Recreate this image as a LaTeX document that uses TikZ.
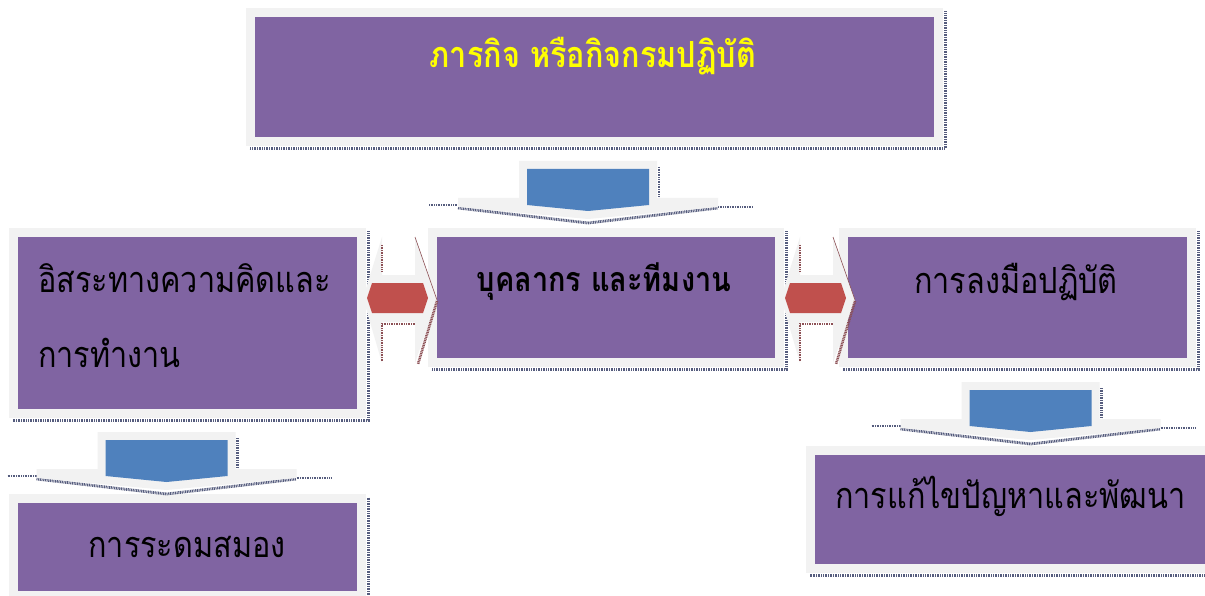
\documentclass[tikz,border=0pt]{standalone}
\usepackage{fontspec}
\usetikzlibrary{backgrounds}
\newfontfamily\thai[Script=Thai,FakeStretch=0.85]{Loma}
\definecolor{boxpurple}{HTML}{8064A2}
\definecolor{framegray}{HTML}{F2F2F2}
\definecolor{arrowblue}{HTML}{4F81BD}
\definecolor{arrowred}{HTML}{C0504D}
\definecolor{shadowc}{RGB}{85,92,125}
\definecolor{shadowr}{RGB}{140,80,85}
\definecolor{titleyellow}{HTML}{FFFF00}
\tikzset{
  pbox/.style={rectangle, fill=boxpurple, draw=framegray, line width=9pt, inner sep=0pt, outer sep=0pt},
  lbl/.style={font=\thai\fontsize{36}{75}\selectfont, text=black, inner sep=0pt},
  blbl/.style={lbl, font=\thai\bfseries\fontsize{34}{40}\selectfont},
  tlbl/.style={lbl, font=\thai\bfseries\fontsize{36}{40}\selectfont, text=titleyellow},
  shadowline/.style={draw=shadowc, line width=2.8pt, dash pattern=on 1pt off 0.7pt},
  rshadow/.style={draw=shadowr, line width=2.6pt, dash pattern=on 1pt off 0.7pt},
  arrowframe/.style={fill=framegray, draw=none},
  bluebody/.style={fill=arrowblue, draw=none},
  redbody/.style={fill=arrowred, draw=none}
}
\begin{document}
\begin{tikzpicture}[x=1pt,y=-1pt]
\useasboundingbox (0,0) rectangle (1205,596);
\begin{scope}[on background layer]
  \fill[white] (0,0) rectangle (1205,596);
\end{scope}
\clip (0,0) rectangle (1205,596);

% boxes
\node[pbox, minimum width=688pt, minimum height=129pt] (b1) at (594.5,77) {};
\node[pbox, minimum width=347pt, minimum height=130pt] (b2) at (606,297.5) {};
\node[pbox, minimum width=348pt, minimum height=181pt] (b3) at (187.5,323) {};
\node[pbox, minimum width=348pt, minimum height=130pt] (b4) at (1017.5,297.5) {};
\node[pbox, minimum width=348pt, minimum height=97pt] (b5) at (187.5,547) {};
\node[pbox, minimum width=409pt, minimum height=118pt] (b6) at (1015,509.5) {};

% box shadows
\begin{scope}[on background layer]
  \foreach \b in {b1,b2,b3,b4,b5,b6}{
    \draw[shadowline] ([shift={(7,-1)}]\b.north east) -- ([shift={(7,7)}]\b.south east) -- ([shift={(-1,7)}]\b.south west);
  }
\end{scope}

% labels
\node[tlbl, anchor=base] (t1) at (593,68) {ภารกิจ หรือกิจกรมปฏิบัติ};
\node[blbl, anchor=base] (t2) at (604,291) {บุคลากร และทีมงาน};
\node[lbl, anchor=base west, align=left] (t3) at (38,367) {อิสระทางความคิดและ\\การทำงาน};
\node[lbl, anchor=base] (t4) at (1016,293) {การลงมือปฏิบัติ};
\node[lbl, anchor=base] (t5) at (187,557) {การระดมสมอง};
\node[lbl, anchor=base west] (t6) at (835,508) {การแก้ไขปัญหาและพัฒนา};

% down arrows
\foreach \n/\cx/\y in {d1/588/161, d2/166.5/432, d3/1030.5/382}{
  \begin{scope}[shift={(\cx,\y)}]
    \coordinate (\n) at (0,0);
    \draw[shadowline] (71,6) -- (71,37);
    \draw[shadowline] (-159,44) -- (-130,44);
    \draw[shadowline] (-130,47) -- (0,62) -- (130,47);
    \draw[shadowline] (130,46) -- (165,46);
    \fill[arrowframe] (-69,0) -- (69,0) -- (69,37) -- (130,37) -- (130,46) -- (0,58) -- (-130,46) -- (-130,37) -- (-69,37) -- cycle;
    \fill[bluebody] (-61,8) -- (61,8) -- (61,44) -- (0,50) -- (-61,44) -- cycle;
  \end{scope}
}

% double arrows
\foreach \n/\cx/\cy in {r1/400/298, r2/818/298}{
  \begin{scope}[shift={(\cx,\cy)}]
    \coordinate (\n) at (0,0);
    \fill[arrowframe] (-37,0) -- (-18,-61) -- (-18,-23) -- (15,-23) -- (15,-61) -- (37,2) -- (15,65) -- (15,24) -- (-18,24) -- (-18,65) -- cycle;
    \draw[rshadow] (-18,-53) -- (-18,-26);
    \draw[rshadow] (-18,25) -- (-18,64);
    \draw[rshadow] (-18,26) -- (15,26);
    \draw[rshadow] (37,3) -- (18,66);
    \draw[shadowr, line width=0.6pt] (15,-61) -- (37,2);
    \fill[redbody] (-33,0) -- (-28,-15) -- (23,-15) -- (28,0) -- (23,15) -- (-28,15) -- cycle;
  \end{scope}
}
\end{tikzpicture}
\end{document}
